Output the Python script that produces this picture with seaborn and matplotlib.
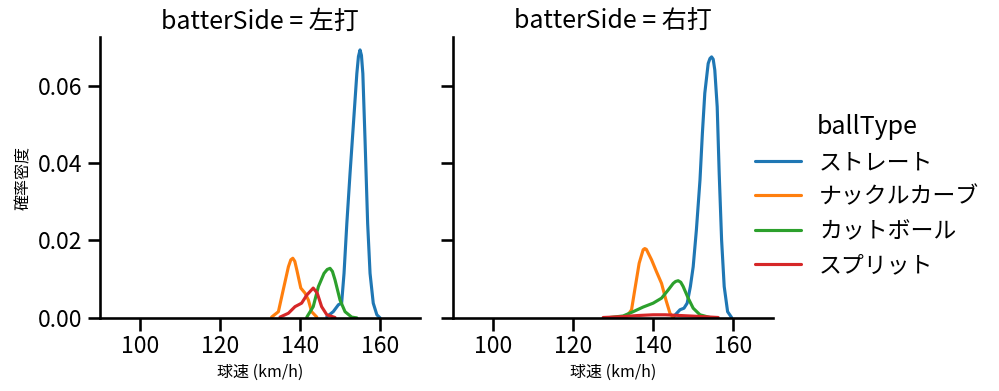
import pandas as pd
import seaborn as sns
import matplotlib.pyplot as plt

# === Density curves (km/h, density) ===
ball_types = ["ストレート", "ナックルカーブ", "カットボール", "スプリット"]
sides = ["左打", "右打"]

# batterSide = 左打
l_fb_kmh = [146.7, 148.3, 149.6, 150.4, 151.0, 151.7, 152.5, 153.3, 154.2, 154.6, 155.0, 155.35, 155.7, 156.25, 156.9, 157.5, 158.3, 159.2, 160.0]
l_fb_den = [0.0003, 0.0016, 0.0034, 0.0038, 0.0115, 0.0244, 0.0373, 0.0494, 0.0631, 0.0675, 0.0692, 0.0678, 0.0631, 0.0459, 0.0244, 0.0115, 0.0038, 0.0008, 0.0]
l_kc_kmh = [132.9, 134.6, 135.8, 137.1, 137.7, 138.2, 138.7, 139.2, 140.2, 141.25, 142.1, 142.9, 144.2]
l_kc_den = [0.0002, 0.0016, 0.0072, 0.0132, 0.0150, 0.0154, 0.0146, 0.0124, 0.0077, 0.0064, 0.0046, 0.0016, 0.0002]
l_ct_kmh = [141.7, 143.3, 144.6, 146.0, 146.8, 147.5, 148.1, 148.75, 150.0, 151.25, 152.9, 154.2]
l_ct_den = [0.0002, 0.0029, 0.0081, 0.0115, 0.0125, 0.0128, 0.0120, 0.0098, 0.0046, 0.0016, 0.0002, 0.0]
l_sp_kmh = [135.0, 137.1, 138.75, 140.4, 141.7, 143.3, 144.3, 145.4, 146.7, 148.75]
l_sp_den = [0.0002, 0.0012, 0.0029, 0.0038, 0.0059, 0.0077, 0.0064, 0.0029, 0.0008, 0.0001]

# batterSide = 右打
r_fb_kmh = [145.0, 146.7, 147.7, 148.5, 149.3, 150.0, 150.8, 151.7, 152.3, 152.9, 153.75, 154.2, 154.6, 155.0, 155.4, 156.0, 156.5, 157.1, 157.75, 158.6, 159.6]
r_fb_den = [0.0002, 0.0021, 0.0025, 0.0038, 0.0081, 0.0132, 0.0227, 0.0356, 0.0477, 0.058, 0.0657, 0.0670, 0.0674, 0.0668, 0.064, 0.0545, 0.0373, 0.0201, 0.0081, 0.0016, 0.0001]
r_kc_kmh = [133.3, 134.6, 135.4, 136.5, 137.5, 137.9, 138.3, 139.6, 140.8, 142.1, 143.2, 144.2, 145.0]
r_kc_den = [0.0002, 0.0021, 0.0072, 0.0141, 0.0176, 0.0179, 0.0177, 0.015, 0.012, 0.0089, 0.0046, 0.0012, 0.0001]
r_ct_kmh = [129.2, 132.5, 135.0, 137.5, 140.0, 142.1, 143.75, 145.0, 145.6, 146.25, 146.9, 147.5, 148.75, 150.0, 151.7, 154.2]
r_ct_den = [0.0001, 0.0005, 0.0016, 0.0028, 0.0038, 0.0051, 0.0072, 0.0089, 0.0094, 0.0096, 0.0092, 0.0081, 0.0051, 0.0025, 0.0008, 0.0001]
r_sp_kmh = [127.5, 132.0, 136.0, 140.0, 143.0, 147.0, 151.0, 156.25]
r_sp_den = [0.0001, 0.0003, 0.0006, 0.0008, 0.0008, 0.0006, 0.0004, 0.0001]

curves = {
    ("左打", "ストレート"): (l_fb_kmh, l_fb_den),
    ("左打", "ナックルカーブ"): (l_kc_kmh, l_kc_den),
    ("左打", "カットボール"): (l_ct_kmh, l_ct_den),
    ("左打", "スプリット"): (l_sp_kmh, l_sp_den),
    ("右打", "ストレート"): (r_fb_kmh, r_fb_den),
    ("右打", "ナックルカーブ"): (r_kc_kmh, r_kc_den),
    ("右打", "カットボール"): (r_ct_kmh, r_ct_den),
    ("右打", "スプリット"): (r_sp_kmh, r_sp_den),
}

frames = []
for (side, bt), (kmh, den) in curves.items():
    frames.append(pd.DataFrame({"speed": kmh, "density": den, "batterSide": side, "ballType": bt}))
df = pd.concat(frames, ignore_index=True)

# === Plot ===
sns.set_theme(context="talk", style="ticks", rc={
    "axes.edgecolor": "black", "xtick.color": "black", "ytick.color": "black",
    "text.color": "black", "axes.labelcolor": "black",
})
plt.rcParams['font.family'] = ['Noto Sans CJK JP', 'DejaVu Sans']

g = sns.relplot(
    data=df, x="speed", y="density", col="batterSide", hue="ballType",
    kind="line", col_order=sides, hue_order=ball_types, palette="tab10",
    height=3.91, aspect=0.82, sort=False, estimator=None,
)
g.figure.set_size_inches(9.99, 3.91)
g.set(xlim=(90, 170), ylim=(0, 0.0725), xticks=[100, 120, 140, 160])
g.set_axis_labels("球速 (km/h)", "確率密度", fontsize=11.5)
g.figure.subplots_adjust(left=0.1, right=0.774, bottom=0.187, top=0.905, wspace=0.103)
sns.move_legend(g, "center left", bbox_to_anchor=(0.735, 0.5), frameon=False)

plt.savefig("out.png", dpi=100)
